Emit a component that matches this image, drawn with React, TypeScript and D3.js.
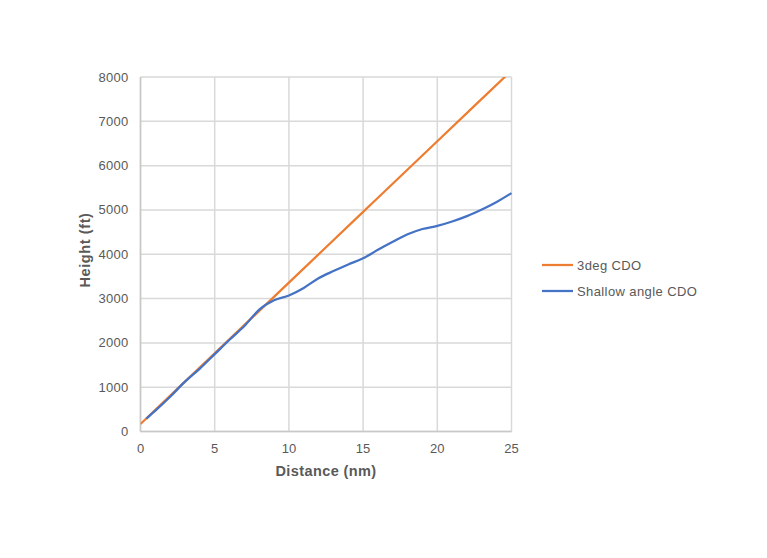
import React from "react";
import * as d3 from "d3";

// distance (nm) / height (ft)
const cdoDist = [0, 5, 10, 15, 20, 25];
const cdoHeight = [170, 1765, 3360, 4955, 6550, 8145];

const shallowDist = [0.4, 1, 2, 3, 4, 5, 6, 7, 8, 9, 10, 11, 12, 13, 14, 15, 16, 17, 18, 19, 20, 21, 22, 23, 24, 25];
const shallowHeight = [290, 470, 785, 1125, 1420, 1745, 2070, 2380, 2750, 2960, 3070, 3240, 3460, 3620, 3770, 3910, 4100, 4280, 4450, 4570, 4640, 4740, 4860, 5010, 5180, 5380];

const xTicks = [0, 5, 10, 15, 20, 25];
const yTicks = [0, 1000, 2000, 3000, 4000, 5000, 6000, 7000, 8000];

const seriesNames = ["3deg CDO", "Shallow angle CDO"];
const seriesColors = ["#ED7D31", "#4472C4"];

const W = 767;
const H = 558;
const margin = { left: 140.5, right: 255, top: 77, bottom: 126 };

export default function App() {
  const x = d3.scaleLinear().domain([0, 25]).range([margin.left, W - margin.right - 0.5]);
  const y = d3.scaleLinear().domain([0, 8000]).range([H - margin.bottom - 0.5, margin.top]);

  const line = d3
    .line<[number, number]>()
    .x((d) => x(d[0]))
    .y((d) => y(d[1]))
    .curve(d3.curveMonotoneX);

  const cdo = cdoDist.map((d, i) => [d, cdoHeight[i]] as [number, number]);
  const shallow = shallowDist.map((d, i) => [d, shallowHeight[i]] as [number, number]);

  const font = "'Liberation Sans', Arial, sans-serif";
  const textColor = "#595959";

  return (
    <svg width={W} height={H} style={{ position: "absolute", left: 0, top: 0, background: "#fff" }} fontFamily={font}>
      <defs>
        <clipPath id="plot">
          <rect x={x(0)} y={y(8000)} width={x(25) - x(0) + 2} height={y(0) - y(8000) + 2} />
        </clipPath>
      </defs>
      {xTicks.map((t) => (
        <line key={"gx" + t} x1={x(t)} x2={x(t)} y1={y(0)} y2={y(8000)} stroke="#d9d9d9" strokeWidth={1.5} />
      ))}
      {yTicks.map((t) => (
        <line key={"gy" + t} x1={x(0)} x2={x(25)} y1={y(t)} y2={y(t)} stroke="#d9d9d9" strokeWidth={1.5} />
      ))}
      <line x1={x(0)} x2={x(0)} y1={y(0)} y2={y(8000)} stroke="#c8c8c8" strokeWidth={1.5} />
      <line x1={x(0)} x2={x(25)} y1={y(0)} y2={y(0)} stroke="#c8c8c8" strokeWidth={1.5} />
      {yTicks.map((t) => (
        <text key={"ty" + t} x={x(0) - 12} y={y(t)} dy="0.35em" textAnchor="end" fontSize={13} letterSpacing={0.3} fill={textColor}>
          {t}
        </text>
      ))}
      {xTicks.map((t) => (
        <text key={"tx" + t} x={x(t)} y={y(0) + 17} dy="0.35em" textAnchor="middle" fontSize={13} fill={textColor}>
          {t}
        </text>
      ))}
      <text x={(x(0) + x(25)) / 2} y={y(0) + 39} dy="0.35em" textAnchor="middle" fontSize={14.5} letterSpacing={0.4} fontWeight="bold" fill={textColor}>
        Distance (nm)
      </text>
      <text
        transform={`translate(85,250) rotate(-90)`}
        dy="0.35em"
        textAnchor="middle"
        fontSize={14.5}
        letterSpacing={0.6}
        fontWeight="bold"
        fill={textColor}
      >
        Height (ft)
      </text>
      <g clipPath="url(#plot)">
        <path d={line(cdo) ?? ""} fill="none" stroke={seriesColors[0]} strokeWidth={2.25} />
        <path d={line(shallow) ?? ""} fill="none" stroke={seriesColors[1]} strokeWidth={2.25} />
      </g>
      {seriesNames.map((n, i) => (
        <g key={n} transform={`translate(542,${265 + i * 26})`}>
          <line x1={0} x2={31} y1={0} y2={0} stroke={seriesColors[i]} strokeWidth={2.25} />
          <text x={35} y={0} dy="0.35em" fontSize={13} letterSpacing={0.4} fill={textColor}>
            {n}
          </text>
        </g>
      ))}
    </svg>
  );
}
